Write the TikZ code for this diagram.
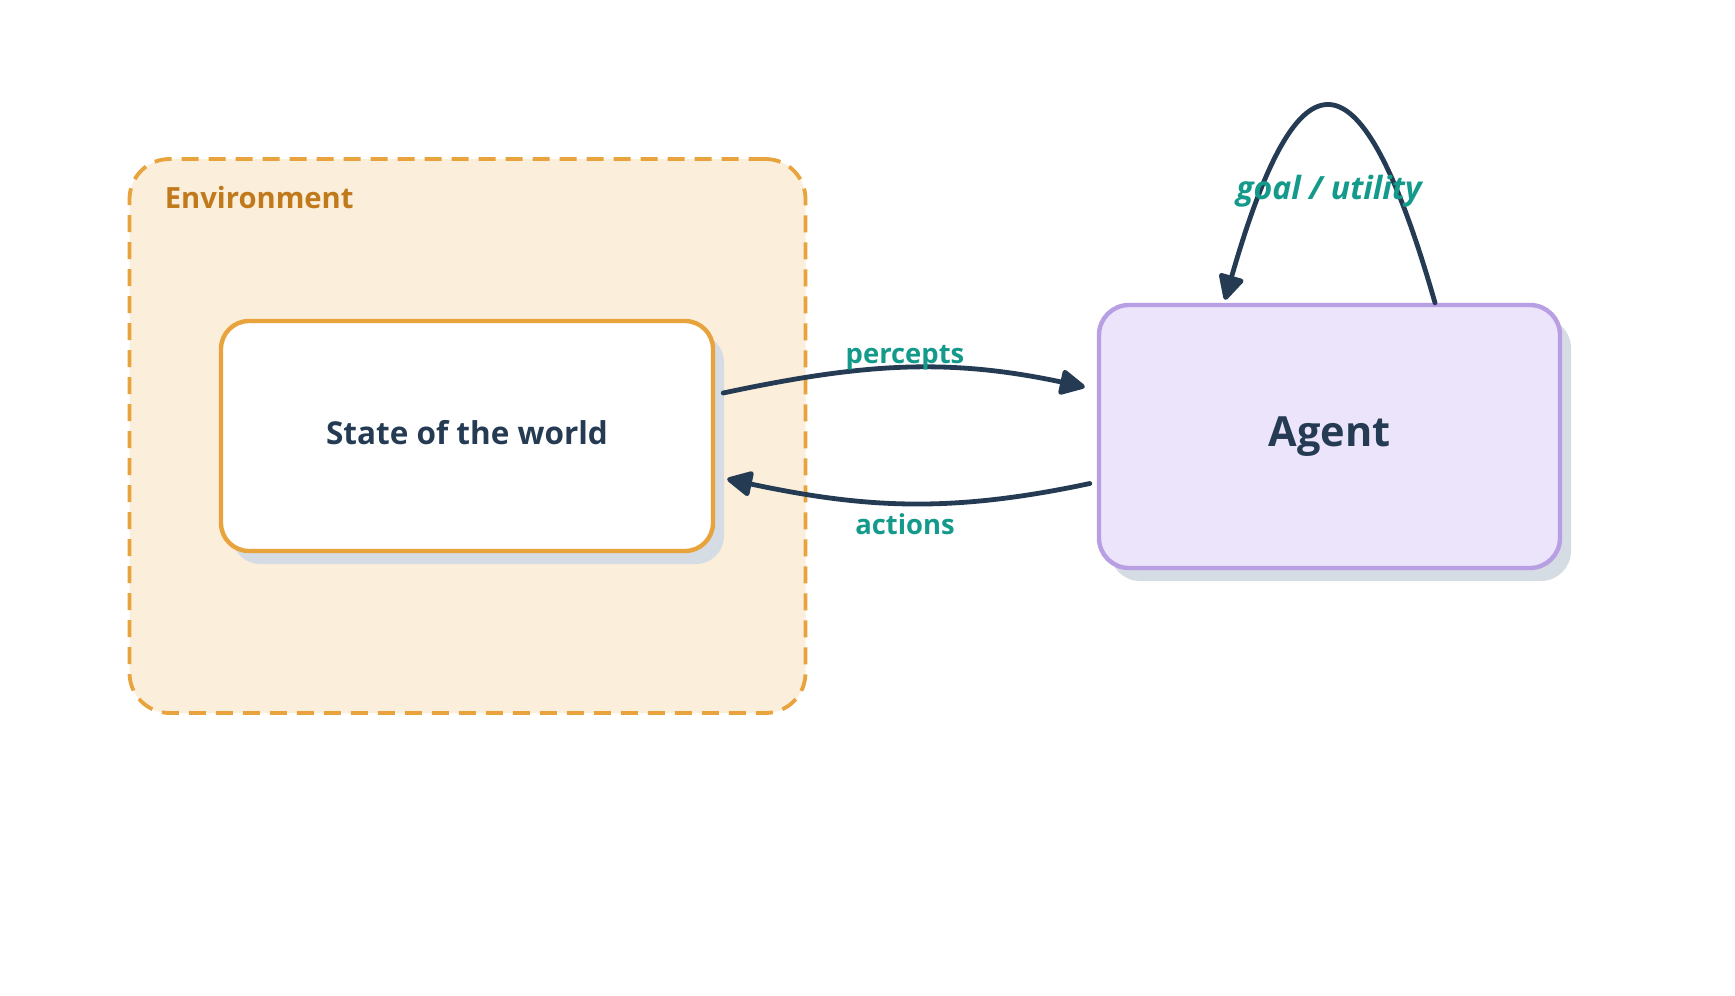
\documentclass[tikz,border=0pt]{standalone}
\usepackage{fontspec}
\setmainfont{Open Sans}
\usetikzlibrary{arrows.meta,calc,shadows}
\definecolor{envfill}{HTML}{FBEFDB}
\definecolor{envline}{HTML}{E8A33D}
\definecolor{envtext}{HTML}{C07A1C}
\definecolor{shadowc}{HTML}{D5DCE4}
\definecolor{agentfill}{HTML}{EBE4FA}
\definecolor{agentline}{HTML}{B89EE2}
\definecolor{ink}{HTML}{243B53}
\definecolor{teal}{HTML}{139A8B}
\tikzset{
  envbox/.style={draw=envline, fill=envfill, line width=3.8pt, dash pattern=on 17pt off 10pt, rounded corners=40pt, minimum width=676pt, minimum height=554pt, inner sep=0pt},
  statebox/.style={draw=envline, fill=white, line width=4.4pt, rounded corners=28pt, minimum width=492pt, minimum height=230pt, inner sep=0pt,
    general shadow={fill=shadowc, shadow xshift=11pt, shadow yshift=-13pt}},
  agentbox/.style={draw=agentline, fill=agentfill, line width=4.4pt, rounded corners=30pt, minimum width=461pt, minimum height=263pt, inner sep=0pt,
    general shadow={fill=shadowc, shadow xshift=11pt, shadow yshift=-13pt}},
  boxtext/.style={text=ink, inner sep=0pt},
  envlbl/.style={text=envtext, font=\bfseries\fontsize{29.2}{34}\selectfont, inner sep=0pt},
  lbl/.style={text=teal, font=\bfseries\fontsize{27.4}{32}\selectfont, inner sep=0pt},
  conn/.style={draw=ink, line width=4.8pt, line cap=round, -{Triangle[length=28pt,width=27pt,round]}},
}
\begin{document}
\begin{tikzpicture}[x=1pt,y=1pt]
\useasboundingbox[fill=white] (0,0) rectangle (1735,-996);
\node[envbox] (env) at (467.5,-436) {};
\node[envlbl, anchor=west] (envlabel) at ($(env.north west)+(37,-40)$) {Environment};
\node[statebox] (state) at (467,-436) {};
\node[boxtext, font=\bfseries\fontsize{31.5}{36}\selectfont] (statetext) at ($(state.center)+(0,3.5)$) {State of the world};
\node[agentbox] (agent) at (1329.5,-436.5) {};
\node[boxtext, font=\bfseries\fontsize{41.5}{48}\selectfont] (agenttext) at (agent.center) {Agent};
\coordinate (pS) at ($(state.east)+(8,43)$);
\coordinate (pE) at ($(agent.west)+(-12,49.5)$);
\coordinate (aS) at ($(agent.west)+(-7,-47)$);
\coordinate (aE) at ($(state.east)+(12,-43)$);
\coordinate (gS) at ($(agent.north)+(105.5,0)$);
\coordinate (gE) at ($(agent.north)+(-104.5,3)$);
\draw[conn] (pS) to[out=12,in=168] (pE);
\draw[conn] (aS) to[out=192,in=-12] (aE);
\draw[conn] (gS) to[out=106,in=74,looseness=3.27] (gE);
\node[lbl] (perc) at (905,-358) {percepts};
\node[lbl] (act) at (905,-524) {actions};
\node[lbl, font=\bfseries\itshape\fontsize{32}{36}\selectfont] (goal) at (1329,-191) {goal / utility};
\end{tikzpicture}
\end{document}
